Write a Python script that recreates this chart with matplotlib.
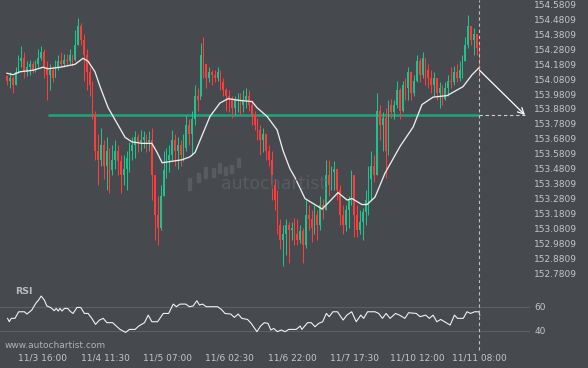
import matplotlib
matplotlib.use("Agg")
import matplotlib.pyplot as plt
from matplotlib.patches import Rectangle
import numpy as np

# ---------------- data (hourly bars) ----------------
first_open = 154.10
close = [154.07,154.09,154.04,154.13,154.20,154.22,154.13,154.16,154.18,154.14,
         154.18,154.22,154.26,154.16,154.11,154.14,154.09,154.16,154.20,154.18,
         154.21,154.20,154.24,154.21,154.31,154.44,154.34,154.24,154.13,154.04,
         153.84,153.60,153.54,153.64,153.50,153.60,153.47,153.54,153.60,153.53,
         153.44,153.48,153.55,153.60,153.64,153.69,153.66,153.67,153.69,153.66,
         153.67,153.44,153.17,153.08,153.30,153.47,153.54,153.57,153.67,153.60,
         153.64,153.57,153.62,153.77,153.71,153.81,153.97,153.94,154.24,154.18,
         154.09,154.13,154.11,154.09,154.13,154.06,154.01,153.97,153.94,153.89,
         153.94,153.95,153.91,153.94,153.97,153.91,153.84,153.77,153.74,153.67,
         153.71,153.60,153.54,153.37,153.27,153.10,153.00,153.04,153.10,153.07,
         153.08,153.04,153.00,153.06,152.97,153.17,153.14,153.08,153.17,153.10,
         153.24,153.20,153.44,153.37,153.46,153.48,153.34,153.17,153.10,153.20,
         153.27,153.44,153.17,153.07,153.12,153.19,153.27,153.41,153.50,153.44,
         153.87,153.77,153.82,153.60,153.91,153.86,153.91,154.01,153.87,154.04,
         154.02,154.13,153.99,154.07,154.20,154.11,154.22,154.14,154.09,154.04,
         154.09,153.99,154.02,153.95,154.02,154.07,154.06,154.13,154.09,154.14,
         154.20,154.31,154.44,154.34,154.38,154.29,154.14]
high = [154.11,154.13,154.10,154.16,154.24,154.30,154.26,154.20,154.21,154.20,
        154.21,154.28,154.30,154.28,154.20,154.18,154.17,154.21,154.24,154.26,
        154.25,154.25,154.28,154.24,154.41,154.49,154.46,154.38,154.28,154.16,
        154.07,153.87,153.71,153.75,153.67,153.69,153.62,153.64,153.67,153.64,
        153.57,153.57,153.60,153.66,153.69,153.73,153.71,153.74,153.73,153.71,
        153.73,153.75,153.37,153.30,153.37,153.60,153.62,153.64,153.74,153.71,
        153.69,153.67,153.71,153.84,153.81,153.87,154.04,154.02,154.32,154.36,
        154.18,154.16,154.14,154.14,154.16,154.14,154.09,154.02,154.01,153.97,
        153.97,153.99,153.99,154.01,154.02,154.01,153.94,153.87,153.82,153.77,
        153.75,153.69,153.64,153.60,153.41,153.34,153.14,153.10,153.14,153.12,
        153.12,153.15,153.14,153.10,153.08,153.27,153.24,153.20,153.24,153.20,
        153.30,153.28,153.54,153.54,153.50,153.53,153.47,153.37,153.24,153.24,
        153.30,153.47,153.41,153.24,153.20,153.22,153.34,153.50,153.60,153.57,
        153.99,153.91,153.86,153.89,153.94,153.95,153.94,154.07,154.02,154.07,
        154.09,154.16,154.13,154.11,154.24,154.22,154.26,154.21,154.18,154.14,
        154.13,154.09,154.06,154.04,154.06,154.11,154.16,154.17,154.18,154.20,
        154.24,154.36,154.51,154.44,154.42,154.38,154.31]
low = [154.04,154.02,153.99,154.04,154.12,154.16,154.09,154.10,154.11,154.12,
       154.13,154.16,154.21,154.09,153.94,154.01,154.06,154.10,154.14,154.16,
       154.16,154.17,154.18,154.17,154.20,154.31,154.31,154.07,154.01,153.97,
       153.81,153.54,153.37,153.50,153.41,153.34,153.32,153.44,153.48,153.44,
       153.32,153.37,153.34,153.46,153.54,153.55,153.59,153.60,153.62,153.59,
       153.60,153.27,153.00,152.97,153.07,153.30,153.42,153.46,153.54,153.50,
       153.48,153.50,153.53,153.60,153.64,153.57,153.77,153.87,153.97,154.09,
       154.02,154.06,154.04,154.06,154.07,154.01,153.97,153.87,153.86,153.82,
       153.84,153.86,153.84,153.86,153.89,153.87,153.77,153.74,153.67,153.57,
       153.59,153.54,153.50,153.27,153.20,153.04,152.94,152.83,152.90,152.85,
       153.00,152.97,152.97,152.98,152.85,152.95,153.07,152.99,153.04,153.00,
       153.07,153.14,153.20,153.30,153.34,153.34,153.27,153.10,153.04,153.06,
       153.08,153.24,153.02,153.02,153.04,153.00,153.10,153.17,153.27,153.39,
       153.44,153.67,153.60,153.42,153.57,153.82,153.81,153.89,153.81,153.86,
       153.94,153.94,153.94,153.97,154.06,154.06,154.09,154.04,154.02,153.99,
       153.97,153.94,153.89,153.91,153.94,153.97,154.02,154.04,154.06,154.07,
       154.09,154.20,154.29,154.31,154.24,154.24,154.10]

# moving average (bar index, price)
ma_x = [0,2.1,4.6,9.1,12.6,14.4,18.6,23.9,26.7,28.5,30.9,32.7,35.5,37.9,41.5,
        43.9,47.4,50.9,52.7,54.5,58,61.5,64.3,66.1,68.9,71.3,74.8,77.7,80.8,
        86.1,87.8,91.4,94.9,97,99.4,101.2,104.7,110.7,112.8,116.3,119.5,121.2,
        124.7,126.5,129.3,132.8,138.1,142.7,145.8,149.7,154.6,160.2,163.4,166]
ma_v = [154.12,154.11,154.13,154.14,154.16,154.15,154.16,154.18,154.22,154.20,
        154.13,154.03,153.89,153.81,153.69,153.66,153.65,153.65,153.59,153.52,
        153.53,153.54,153.56,153.59,153.72,153.83,153.92,153.95,153.94,153.93,
        153.89,153.83,153.74,153.60,153.48,153.42,153.28,153.21,153.25,153.32,
        153.27,153.28,153.24,153.24,153.29,153.45,153.63,153.76,153.91,153.96,
        153.97,154.03,154.11,154.16]

# RSI (bar index, value)
rsi_x = [0.2,0.8,1.5,2.8,4.1,6.1,7.0,8.7,10.1,11.1,12.0,13.1,14.0,15.3,16.6,
         17.3,18.0,18.6,19.3,20.2,21.3,22.3,23.2,24.6,25.9,27.2,28.5,29.8,31.1,
         32.5,33.8,35.1,37.1,38.4,39.7,41.7,43.0,45.0,46.3,48.3,49.6,50.9,52.9,
         54.9,56.8,58.4,59.5,60.8,62.8,64.1,65.4,66.7,67.6,68.7,70.0,74.0,75.3,
         76.6,78.6,79.9,81.2,82.5,84.5,85.8,87.8,89.1,90.4,91.7,92.7,93.7,95.0,
         96.3,97.7,99.0,101.6,103.0,103.6,105.6,106.9,108.2,109.5,110.9,112.2,
         113.2,114.5,116.1,118.1,119.4,121.1,122.7,124.3,125.3,126.7,129.3,130.6,
         131.9,133.2,134.6,136.5,137.9,139.8,141.1,143.8,145.1,147.1,148.4,149.7,
         151.0,152.4,153.7,155.7,157.2,158.3,160.3,161.6,162.9,164.3,165.8,166.1]
rsi_v = [50.3,47.5,50.3,50.3,55.8,55.8,53.9,57.2,62.8,65.6,68.9,65.6,60.6,59.4,
         56.7,58.6,56.4,58.6,56.4,58.6,58.6,56.0,54.4,59.4,59.4,54.4,54.4,50.3,
         45.3,48.9,50.3,46.7,46.7,43.9,41.1,38.6,41.1,41.1,43.9,46.7,53.0,47.5,
         47.5,54.4,54.4,62.2,60.0,62.2,62.2,60.0,60.6,65.0,61.4,62.2,60.0,60.0,
         57.8,54.4,53.9,51.1,53.9,50.3,49.4,46.1,39.2,43.9,46.7,46.1,40.6,41.9,
         39.2,40.6,39.2,41.1,41.1,43.9,41.1,46.7,46.7,43.3,46.1,47.5,54.4,51.7,
         55.8,55.8,48.9,53.0,55.8,47.5,53.0,50.3,55.8,55.8,54.4,50.3,54.4,50.3,
         54.4,53.0,50.3,55.0,54.4,51.7,53.0,50.3,53.0,47.5,49.4,47.5,44.7,53.0,
         50.3,50.3,55.8,54.4,55.8,55.8,53.0]

price_ticks = [152.7809,152.8809,152.9809,153.0809,153.1809,153.2809,153.3809,
               153.4809,153.5809,153.6809,153.7809,153.8809,153.9809,154.0809,
               154.1809,154.2809,154.3809,154.4809,154.5809]
rsi_ticks = [40, 60]
time_labels = ["11/3 16:00","11/4 11:30","11/5 07:00","11/6 02:30",
               "11/6 22:00","11/7 17:30","11/10 12:00","11/11 08:00"]
time_pos = [12.6,34.5,56.4,78.3,100.2,122.1,144.0,165.9]
level = 153.84
level_start = 14.4
target_x = 182.0
target_price = 153.84

# ---------------- style ----------------
BG = "#46494e"
GREEN = "#1ec38c"
RED = "#ff3b3b"
LEVEL = "#1fa57a"
TXT = "#c4c6c8"

W, H = 588, 368
fig = plt.figure(figsize=(W/100, H/100), dpi=100, facecolor=BG)

def frac(x0, y0, x1, y1):
    return [x0/W, 1 - y1/H, (x1-x0)/W, (y1-y0)/H]

ax = fig.add_axes(frac(0, 0, 530, 283))
axr = fig.add_axes(frac(0, 285, 530, 345), sharex=ax)
for a in (ax, axr):
    a.set_facecolor(BG)
    for s in a.spines.values():
        s.set_visible(False)

n = len(close)
xs = np.arange(n)
opens = np.array([first_open] + close[:-1])
cl = np.array(close)
hi = np.array(high)
lo = np.array(low)
up = cl >= opens
cols = np.where(up, GREEN, RED)

ax.vlines(xs, lo, hi, colors=cols, lw=0.75, zorder=3)
bot = np.minimum(opens, cl)
hgt = np.maximum(np.abs(cl - opens), 0.006)
ax.bar(xs, hgt, bottom=bot, width=0.62, color=cols, lw=0, zorder=3)

# support level
ax.plot([level_start, n-1], [level, level], color=LEVEL, lw=1.8, zorder=2,
        solid_capstyle="butt")
# moving average
ax.plot(ma_x, ma_v, color="#ececec", lw=0.95, zorder=4,
        solid_joinstyle="round")

# vertical dashed marker & forecast
ax.axvline(n-1, color="#bfc1c3", lw=0.8, ls=(0, (3, 2.5)), zorder=5)
axr.axvline(n-1, ymin=-0.09, ymax=1, color="#bfc1c3", lw=0.8,
            ls=(0, (3, 2.5)), zorder=5, clip_on=False)
ax.plot([n-1, target_x], [level, level], color="#cfd1d3", lw=0.8,
        ls=(0, (3, 2.5)), zorder=5)
ax.annotate("", xy=(target_x, target_price), xytext=(n-1, close[-1]),
            arrowprops=dict(arrowstyle="->", color="white", lw=0.9,
                            mutation_scale=11, shrinkA=0, shrinkB=0), zorder=6)

ax.set_xlim(-2.46, 183.75)
ax.set_ylim(152.714, 154.611)
ax.yaxis.tick_right()
ax.set_yticks(price_ticks)
ax.set_yticklabels([f"{v:.4f}" for v in price_ticks])
ax.tick_params(axis="y", length=0, pad=3, labelsize=6.5, labelcolor=TXT)
ax.tick_params(axis="x", length=0, labelbottom=False)
for lab in ax.get_yticklabels():
    lab.set_horizontalalignment("left")

# RSI panel
axr.plot(rsi_x, rsi_v, color="#f0f0f0", lw=0.8, zorder=3)
for v in rsi_ticks:
    axr.axhline(v, color="#5c6065", lw=0.8, zorder=1)
axr.set_ylim(28.1, 78.1)
axr.yaxis.tick_right()
axr.set_yticks(rsi_ticks)
axr.set_yticklabels([str(v) for v in rsi_ticks])
axr.tick_params(axis="y", length=0, pad=3, labelsize=6.5, labelcolor=TXT)
axr.set_xticks(time_pos)
axr.set_xticklabels(time_labels)
axr.tick_params(axis="x", length=0, pad=6, labelsize=6.5, labelcolor=TXT)

fig.text(15/W, 1 - 291/H, "RSI", fontsize=6.8, fontweight="bold",
         color="#b8babc", va="center", ha="left")
fig.text(5/W, 1 - 345/H, "www.autochartist.com", fontsize=6.5,
         color="#b0b2b4", va="center", ha="left")

# watermark
fig.text(221/W, 1 - 184/H, "autochartist", fontsize=12.5, color="#585c61",
         va="center", ha="left", zorder=0)
wm_bars = [(188, 178, 190), (197, 173, 182), (204, 167, 178), (212, 168, 177),
           (218, 163, 173), (224, 167, 175), (230, 165, 173), (237, 158, 167)]
for bx, by0, by1 in wm_bars:
    fig.patches.append(Rectangle((bx/W, 1 - by1/H), 3.3/W, (by1-by0)/H,
                                 transform=fig.transFigure, color="#585c61",
                                 zorder=0))

fig.savefig("out.png", dpi=100, facecolor=BG)
